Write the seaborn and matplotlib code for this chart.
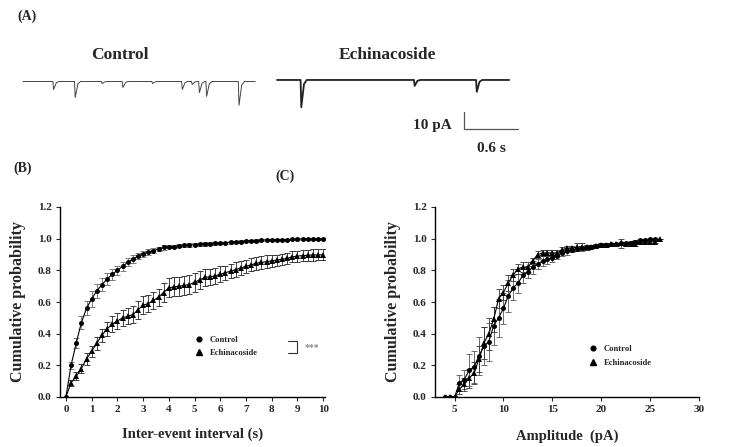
import numpy as np
import pandas as pd
import seaborn as sns
import matplotlib
matplotlib.use("Agg")
import matplotlib.pyplot as plt
from matplotlib.lines import Line2D

# ---- (A) example traces: event times (s) and amplitudes (pA)
ctrl_ev_t = [0.34, 0.58, 0.88, 1.11, 1.44, 1.77, 1.88, 1.96, 2.04, 2.40]
ctrl_ev_a = [4.7, 9.4, 1.2, 3.5, 1.2, 4.7, 1.8, 6.5, 8.8, 14.0]
echi_ev_t = [0.27, 1.53, 2.22]
echi_ev_a = [16.0, 3.5, 7.0]
trace_len = 2.58

# ---- (B) inter-event interval cumulative probability
iei_t = [0.0, 0.2, 0.4, 0.6, 0.8, 1.0, 1.2, 1.4, 1.6, 1.8,
         2.0, 2.2, 2.4, 2.6, 2.8, 3.0, 3.2, 3.4, 3.6, 3.8,
         4.0, 4.2, 4.4, 4.6, 4.8, 5.0, 5.2, 5.4, 5.6, 5.8,
         6.0, 6.2, 6.4, 6.6, 6.8, 7.0, 7.2, 7.4, 7.6, 7.8,
         8.0, 8.2, 8.4, 8.6, 8.8, 9.0, 9.2, 9.4, 9.6, 9.8, 10.0]
iei_ctrl = [0.00, 0.20, 0.34, 0.47, 0.56, 0.62, 0.67, 0.71, 0.745, 0.775,
            0.80, 0.825, 0.85, 0.87, 0.89, 0.905, 0.915, 0.925, 0.935, 0.945,
            0.950, 0.950, 0.955, 0.958, 0.960, 0.962, 0.964, 0.966, 0.968, 0.970,
            0.972, 0.974, 0.976, 0.978, 0.982, 0.985, 0.987, 0.988, 0.990, 0.992,
            0.994, 0.993, 0.992, 0.994, 0.996, 0.997, 0.998, 0.998, 0.998, 0.999, 0.999]
iei_ctrl_err = [0.0, 0.02, 0.03, 0.04, 0.045, 0.05, 0.045, 0.04, 0.04, 0.035,
                0.03, 0.03, 0.025, 0.025, 0.02, 0.02, 0.02, 0.015, 0.015, 0.015,
                0.012, 0.01, 0.01, 0.01, 0.01, 0.01, 0.01, 0.01, 0.01, 0.01,
                0.008, 0.008, 0.008, 0.008, 0.008, 0.008, 0.007, 0.007, 0.007, 0.006,
                0.006, 0.006, 0.006, 0.005, 0.005, 0.005, 0.005, 0.005, 0.005, 0.005, 0.005]
iei_echi = [0.00, 0.09, 0.13, 0.18, 0.24, 0.29, 0.34, 0.39, 0.43, 0.46,
            0.48, 0.50, 0.51, 0.52, 0.55, 0.58, 0.59, 0.61, 0.63, 0.66,
            0.69, 0.695, 0.70, 0.705, 0.71, 0.725, 0.74, 0.755, 0.76, 0.765,
            0.775, 0.785, 0.795, 0.805, 0.815, 0.825, 0.835, 0.845, 0.85, 0.855,
            0.86, 0.865, 0.87, 0.875, 0.885, 0.89, 0.893, 0.895, 0.897, 0.898, 0.898]
iei_echi_err = [0.0, 0.02, 0.025, 0.03, 0.035, 0.035, 0.04, 0.04, 0.045, 0.05,
                0.05, 0.05, 0.05, 0.055, 0.055, 0.055, 0.055, 0.055, 0.055, 0.06,
                0.06, 0.06, 0.06, 0.06, 0.06, 0.06, 0.055, 0.055, 0.05, 0.05,
                0.05, 0.045, 0.045, 0.045, 0.045, 0.04, 0.04, 0.04, 0.04, 0.04,
                0.04, 0.035, 0.035, 0.035, 0.035, 0.035, 0.035, 0.035, 0.035, 0.035, 0.035]

# ---- (C) amplitude cumulative probability
amp_ctrl_x = [4.0, 4.5, 5.0, 5.5, 6.0, 6.5, 7.0, 7.5, 8.0, 8.5,
              9.0, 9.5, 10.0, 10.5, 11.0, 11.5, 12.0, 12.5, 13.0, 13.5,
              14.0, 14.5, 15.0, 15.5, 16.0, 16.5, 17.0, 17.5, 18.0, 18.5,
              19.0, 19.5, 20.0, 20.5, 21.0, 21.5, 22.0, 22.5, 23.0, 23.5,
              24.0, 24.5, 25.0, 25.5]
amp_ctrl = [0.0, 0.0, 0.0, 0.09, 0.11, 0.17, 0.19, 0.26, 0.32, 0.35,
            0.45, 0.50, 0.56, 0.64, 0.69, 0.72, 0.77, 0.79, 0.82, 0.84,
            0.86, 0.87, 0.88, 0.89, 0.91, 0.92, 0.93, 0.935, 0.94, 0.945,
            0.95, 0.955, 0.96, 0.96, 0.965, 0.965, 0.97, 0.97, 0.975, 0.98,
            0.99, 0.99, 0.995, 0.995]
amp_ctrl_err = [0.0, 0.0, 0.0, 0.05, 0.06, 0.1, 0.1, 0.12, 0.12, 0.12,
                0.12, 0.12, 0.1, 0.1, 0.08, 0.06, 0.05, 0.04, 0.04, 0.03,
                0.03, 0.03, 0.03, 0.02, 0.02, 0.02, 0.015, 0.015, 0.015, 0.015,
                0.01, 0.01, 0.01, 0.01, 0.01, 0.01, 0.01, 0.01, 0.01, 0.01,
                0.01, 0.01, 0.01, 0.01]
amp_echi_x = [4.0, 4.5, 5.0, 5.5, 6.0, 6.5, 7.0, 7.5, 8.0, 8.5,
              9.0, 9.5, 10.0, 10.5, 11.0, 11.5, 12.0, 12.5, 13.0, 13.5,
              14.0, 14.5, 15.0, 15.5, 16.0, 16.5, 17.0, 17.5, 18.0, 18.5,
              19.0, 19.5, 20.0, 20.5, 21.0, 21.5, 22.0, 22.5, 23.0, 23.5,
              24.0, 24.5, 25.0, 25.5, 26.0]
amp_echi = [0.0, 0.0, 0.0, 0.05, 0.08, 0.12, 0.15, 0.24, 0.34, 0.40,
            0.49, 0.62, 0.66, 0.72, 0.77, 0.81, 0.82, 0.82, 0.86, 0.90,
            0.91, 0.91, 0.91, 0.91, 0.93, 0.94, 0.94, 0.945, 0.95, 0.945,
            0.95, 0.955, 0.96, 0.96, 0.965, 0.965, 0.97, 0.965, 0.965, 0.965,
            0.98, 0.98, 0.98, 0.98, 1.0]
amp_echi_err = [0.0, 0.0, 0.0, 0.03, 0.04, 0.06, 0.07, 0.08, 0.1, 0.1,
                0.08, 0.06, 0.05, 0.05, 0.04, 0.03, 0.03, 0.03, 0.02, 0.02,
                0.02, 0.02, 0.02, 0.02, 0.015, 0.015, 0.015, 0.025, 0.02, 0.015,
                0.01, 0.01, 0.01, 0.01, 0.01, 0.01, 0.03, 0.01, 0.01, 0.01,
                0.01, 0.01, 0.01, 0.01, 0.0]

sns.set_style("ticks")
plt.rcParams['font.family'] = ['Liberation Serif', 'DejaVu Serif']
plt.rcParams['font.weight'] = 'bold'

W, H = 739, 447
fig = plt.figure(figsize=(W / 100, H / 100), dpi=100)


def build_trace(ev_t, ev_a):
    xs, ys = [0.0], [0.0]
    for t, a in zip(ev_t, ev_a):
        xs += [t - 0.008, t, t + 0.03, t + 0.06]
        ys += [0.0, -a, -0.15 * a, 0.0]
    xs.append(trace_len)
    ys.append(0.0)
    return pd.DataFrame({'t': xs, 'i': ys})


# top traces, 90 px per s and 1.7 px per pA
ax_tr = fig.add_axes([0, 1 - 190 / H, 1, 190 / H])
ax_tr.axis('off')
ax_tr.set_xlim(0, W / 90)
ax_tr.set_ylim(-108.5 / 1.7, 81.5 / 1.7)
ctrl_tr = build_trace(ctrl_ev_t, ctrl_ev_a)
echi_tr = build_trace(echi_ev_t, echi_ev_a)
ax_tr.plot(ctrl_tr['t'] + 23 / 90, ctrl_tr['i'], color='#444444', lw=0.7)
ax_tr.plot(echi_tr['t'] + 277 / 90, echi_tr['i'] + 0.9, color='#222222', lw=1.3)
# scale bar
sb_x, sb_y = 464 / 90, (81.5 - 129) / 1.7
ax_tr.plot([sb_x, sb_x, sb_x + 0.6], [sb_y + 10, sb_y, sb_y], color='#555555', lw=0.9)

fig.text(17 / W, 1 - 16 / H, '(A)', fontsize=10, fontweight='bold', va='center')
fig.text(120 / W, 1 - 55 / H, 'Control', fontsize=12.5, fontweight='bold', ha='center', va='center')
fig.text(387 / W, 1 - 55 / H, 'Echinacoside', fontsize=12.5, fontweight='bold', ha='center', va='center')
fig.text(452 / W, 1 - 125 / H, '10 pA', fontsize=11, fontweight='bold', ha='right', va='center')
fig.text(491 / W, 1 - 148 / H, '0.6 s', fontsize=11, fontweight='bold', ha='center', va='center')
fig.text(13 / W, 1 - 168 / H, '(B)', fontsize=10, fontweight='bold', va='center')
fig.text(275 / W, 1 - 176 / H, '(C)', fontsize=10, fontweight='bold', va='center')


def style_axes(ax, xlabel, xlab_y):
    sns.despine(ax=ax)
    for s in ['left', 'bottom']:
        ax.spines[s].set_linewidth(1.0)
        ax.spines[s].set_color('black')
    ax.tick_params(direction='out', length=3, width=0.8, labelsize=8, pad=3)
    ax.set_ylim(0, 1.2)
    ax.set_yticks([0.0, 0.2, 0.4, 0.6, 0.8, 1.0, 1.2])
    ax.set_yticklabels(['%.1f' % v for v in [0.0, 0.2, 0.4, 0.6, 0.8, 1.0, 1.2]],
                       fontweight='bold', fontsize=8)
    ax.set_ylabel('Cumulative probability', fontsize=11.5, fontweight='bold')
    ax.set_xlabel(xlabel, fontsize=10.5, fontweight='bold')
    ax.yaxis.set_label_coords(-0.13, 0.5)
    ax.xaxis.set_label_coords(0.5, xlab_y)


def draw_series(ax, x, y, err, marker, ms, ecol):
    ax.errorbar(x, y, yerr=err, fmt='none', ecolor=ecol, elinewidth=0.6,
                capsize=2.5, capthick=0.6, zorder=2)
    sns.lineplot(x=x, y=y, ax=ax, color='black', lw=0.8, marker=marker,
                 markersize=ms, markeredgewidth=0, zorder=3)


ax_b = fig.add_axes([60 / W, 1 - 397 / H, 265 / W, 190 / H])
draw_series(ax_b, iei_t, iei_ctrl, iei_ctrl_err, 'o', 3.6, '#666666')
draw_series(ax_b, iei_t, iei_echi, iei_echi_err, '^', 4.2, '#222222')
ax_b.set_xlim(-0.23, 10.07)
ax_b.set_xticks(range(0, 11))
style_axes(ax_b, 'Inter-event interval (s)', -0.16)
ax_b.set_xticklabels([str(v) for v in range(0, 11)], fontweight='bold', fontsize=8)

ax_c = fig.add_axes([435 / W, 1 - 397 / H, 264 / W, 190 / H])
draw_series(ax_c, amp_ctrl_x, amp_ctrl, amp_ctrl_err, 'o', 3.6, '#555555')
draw_series(ax_c, amp_echi_x, amp_echi, amp_echi_err, '^', 4.2, '#333333')
ax_c.set_xlim(3.0, 30.0)
ax_c.set_xticks([5, 10, 15, 20, 25, 30])
style_axes(ax_c, 'Amplitude  (pA)', -0.17)
ax_c.set_xticklabels(['5', '10', '15', '20', '25', '30'], fontweight='bold', fontsize=8)

handles = [Line2D([], [], ls='none', marker='o', color='black', markersize=3.4),
           Line2D([], [], ls='none', marker='^', color='black', markersize=4.0)]
for ax, anchor, spacing in [(ax_b, (0.506, 0.321), 0.6), (ax_c, (0.58, 0.274), 0.75)]:
    ax.legend(handles, ['Control', 'Echinacoside'], loc='upper left',
              bbox_to_anchor=anchor, frameon=False, handlelength=1.2,
              handletextpad=0.6, labelspacing=spacing, borderpad=0,
              borderaxespad=0, prop={'size': 6.2, 'weight': 'bold'})

# significance bracket in (B)
ax_b.plot([0.860, 0.894, 0.894, 0.860], [0.295, 0.295, 0.232, 0.232],
          transform=ax_b.transAxes, color='#333333', lw=0.8, clip_on=False)
ax_b.text(0.951, 0.263, '***', transform=ax_b.transAxes, color='#888888',
          fontsize=7, ha='center', va='center')

fig.savefig('out.png', dpi=100)
